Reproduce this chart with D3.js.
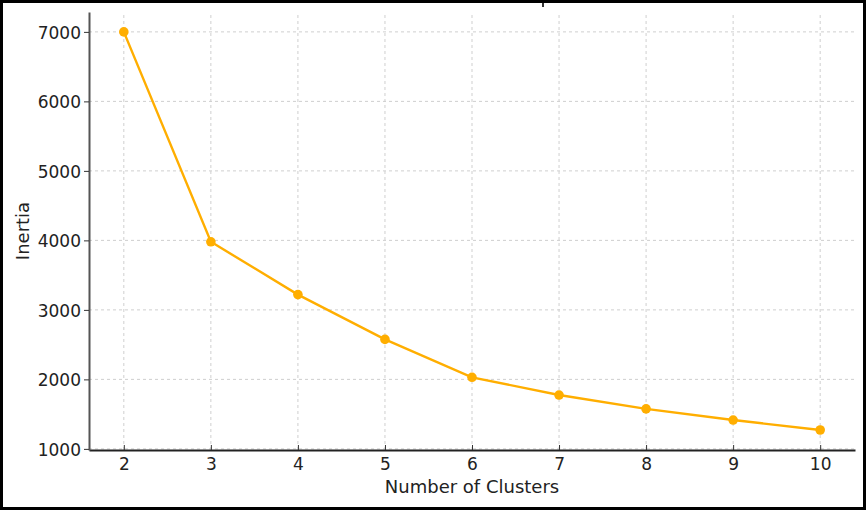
<!DOCTYPE html>
<html lang="en">
<head>
<meta charset="utf-8">
<title>Elbow chart</title>
<script src="https://cdn.jsdelivr.net/npm/d3@7"></script>
<style>
body { margin: 0; background: #fff; }
svg { display: block; font-family: "DejaVu Sans", sans-serif; }
.grid line { stroke: #cfcfcf; stroke-width: 1; stroke-dasharray: 3,3; }
</style>
</head>
<body>
<div id="chart"></div>
<script>
"use strict";

// data
var clusters = [2, 3, 4, 5, 6, 7, 8, 9, 10];
var inertia = [7000, 3980, 3220, 2575, 2030, 1775, 1575, 1415, 1272];
var yTicks = [1000, 2000, 3000, 4000, 5000, 6000, 7000];

var width = 866, height = 511;
var margin = {left: 89, right: 11, top: 12, bottom: 61};

var svg = d3.select("#chart").append("svg")
    .attr("width", width)
    .attr("height", height);

// frame round the screenshot
svg.append("rect")
    .attr("x", 1.5).attr("y", 1.5)
    .attr("width", width - 3).attr("height", height - 4)
    .attr("fill", "none")
    .attr("stroke", "#000")
    .attr("stroke-width", 3);
svg.append("rect")
    .attr("x", 542).attr("y", 3).attr("width", 2).attr("height", 4)
    .attr("fill", "#333");

var x = d3.scaleLinear()
    .domain([1.6, 10.4])
    .range([margin.left, width - margin.right]);

var y = d3.scaleLinear()
    .domain([984, 7286])
    .range([height - margin.bottom, margin.top]);

// grid
var grid = svg.append("g").attr("class", "grid");
grid.selectAll(".gx").data(clusters).enter().append("line")
    .attr("x1", function(d) { return x(d); })
    .attr("x2", function(d) { return x(d); })
    .attr("y1", y.range()[0]).attr("y2", y.range()[1]);
grid.selectAll(".gy").data(yTicks).enter().append("line")
    .attr("y1", function(d) { return y(d); })
    .attr("y2", function(d) { return y(d); })
    .attr("x1", x.range()[0]).attr("x2", x.range()[1]);

// axes
var xAxis = svg.append("g")
    .attr("transform", "translate(0," + y.range()[0] + ")")
    .call(d3.axisBottom(x).tickValues(clusters).tickSize(-5).tickPadding(8).tickSizeOuter(0));
xAxis.select(".domain").attr("stroke", "#222").attr("stroke-width", 2);

var yAxis = svg.append("g")
    .attr("transform", "translate(" + x.range()[0] + ",0)")
    .call(d3.axisLeft(y).tickValues(yTicks).tickFormat(d3.format("d"))
      .tickSize(5).tickPadding(3).tickSizeOuter(0));
yAxis.select(".domain").attr("stroke", "#555").attr("stroke-width", 2);

[xAxis, yAxis].forEach(function(a) {
  a.attr("font-family", null).attr("font-size", 17);
  a.selectAll(".tick line").attr("stroke", "#333");
  a.selectAll(".tick text").attr("fill", "#222");
});
yAxis.selectAll(".tick text").attr("dy", "0.36em");

// line and markers
var line = d3.line()
    .x(function(d, i) { return x(clusters[i]); })
    .y(function(d) { return y(d); });

svg.append("path")
    .datum(inertia)
    .attr("fill", "none")
    .attr("stroke", "#ffae00")
    .attr("stroke-width", 2.4)
    .attr("d", line);

svg.selectAll(".dot").data(inertia).enter().append("circle")
    .attr("class", "dot")
    .attr("cx", function(d, i) { return x(clusters[i]); })
    .attr("cy", function(d) { return y(d); })
    .attr("r", 4.8)
    .attr("fill", "#ffae00");

// labels
svg.append("text")
    .attr("x", (x.range()[0] + x.range()[1]) / 2)
    .attr("y", 493)
    .attr("text-anchor", "middle")
    .attr("font-size", 18)
    .attr("fill", "#222")
    .text("Number of Clusters");

svg.append("text")
    .attr("transform", "translate(29," + ((y.range()[0] + y.range()[1]) / 2) + ") rotate(-90)")
    .attr("text-anchor", "middle")
    .attr("font-size", 18)
    .attr("fill", "#222")
    .text("Inertia");
</script>
</body>
</html>
